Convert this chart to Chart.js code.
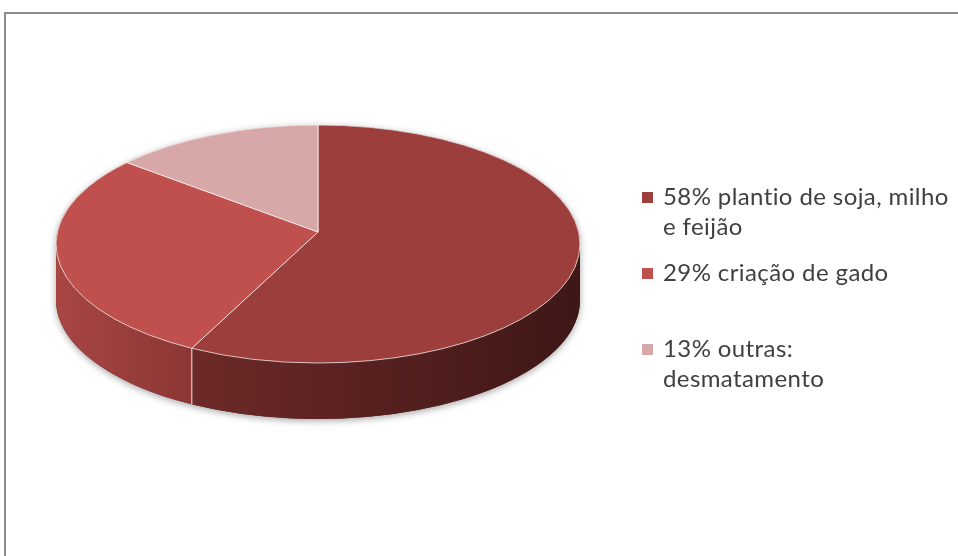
<!DOCTYPE html>
<html>
<head>
<meta charset="utf-8">
<script src="https://cdn.jsdelivr.net/npm/chart.js@4.4.0/dist/chart.umd.min.js"></script>
<style>
  html, body { margin: 0; padding: 0; background: #fff; }
  #wrap { position: relative; width: 958px; height: 556px; overflow: hidden; }
  #frame {
    position: absolute; left: 4px; top: 12px; width: 1000px; height: 600px;
    border-left: 2px solid #8c8c8c; border-top: 2px solid #8c8c8c;
  }
  #pie { position: absolute; left: 0; top: 0; }
</style>
</head>
<body>
<div id="wrap">
  <div id="frame"></div>
  <canvas id="pie" width="958" height="556"></canvas>
</div>
<script>
// ===== DATA =====
const labels = [
    ['58% plantio de soja, milho', 'e feijão'],
    ['29% criação de gado'],
    ['13% outras:', 'desmatamento']
];
const shares = [58, 29, 13];

// ===== STYLE =====
const topColors = ['#9b3e3c', '#c0504d', '#d8a7a7'];
const sideColors = [['#6d2a28', '#3e1716'], ['#a84644', '#8b3735'], ['#c99494', '#b88282']];
const TILT = 119 / 262;   // vertical squash of the top face
const DEPTH = 56;         // height of the pie wall
const APEX_LIFT = 12;     // perspective: apex sits a bit above the ellipse centre

// Draws the pie as a tilted solid using the arcs Chart.js laid out
const pie3d = {
    id: 'pie3d',
    beforeDatasetsDraw(chart) {
        const ctx = chart.ctx;
        const arcs = chart.getDatasetMeta(0).data;
        const cx = arcs[0].x;
        const rx = arcs[0].outerRadius;
        const ry = rx * TILT;
        const cy = arcs[0].y - DEPTH / 2;

        // soft shadow under the whole solid
        ctx.save();
        ctx.shadowColor = 'rgba(0,0,0,0.35)';
        ctx.shadowBlur = 7;
        ctx.shadowOffsetY = 2;
        ctx.beginPath();
        ctx.ellipse(cx, cy, rx, ry, 0, Math.PI, 0);
        ctx.ellipse(cx, cy + DEPTH, rx, ry, 0, 0, Math.PI);
        ctx.closePath();
        ctx.fillStyle = '#5a2321';
        ctx.fill();
        ctx.restore();

        // front walls
        arcs.forEach((arc, i) => {
            const a1 = Math.max(arc.startAngle, 0);
            const a2 = Math.min(arc.endAngle, Math.PI);
            if (a2 <= a1) return;
            const xl = cx + rx * Math.cos(a2);
            const xr = cx + rx * Math.cos(a1);
            const grad = ctx.createLinearGradient(xl, 0, xr, 0);
            grad.addColorStop(0, sideColors[i][0]);
            grad.addColorStop(1, sideColors[i][1]);
            ctx.beginPath();
            ctx.ellipse(cx, cy, rx, ry, 0, a1, a2);
            ctx.ellipse(cx, cy + DEPTH, rx, ry, 0, a2, a1, true);
            ctx.closePath();
            ctx.fillStyle = grad;
            ctx.fill();
        });

        // seams on the wall where slices meet
        ctx.save();
        ctx.strokeStyle = 'rgba(255,255,255,0.75)';
        ctx.lineWidth = 1.2;
        arcs.forEach(arc => {
            const a = arc.endAngle;
            if (a <= 0 || a >= Math.PI) return;
            const x = cx + rx * Math.cos(a);
            const y = cy + ry * Math.sin(a);
            ctx.beginPath();
            ctx.moveTo(x, y);
            ctx.lineTo(x, y + DEPTH);
            ctx.stroke();
        });
        ctx.restore();

        // top faces
        arcs.forEach((arc, i) => {
            ctx.beginPath();
            ctx.moveTo(cx, cy - APEX_LIFT);
            ctx.ellipse(cx, cy, rx, ry, 0, arc.startAngle, arc.endAngle);
            ctx.closePath();
            ctx.fillStyle = topColors[i];
            ctx.fill();
            ctx.strokeStyle = 'rgba(255,255,255,0.7)';
            ctx.lineWidth = 1;
            ctx.stroke();
        });
        return false;
    },
    afterDraw(chart) {
        // legend on the right, one block per slice
        const ctx = chart.ctx;
        ctx.save();
        ctx.font = '24px Lato';
        ctx.letterSpacing = '0.4px';
        ctx.textBaseline = 'alphabetic';
        chart.data.labels.forEach((lines, i) => {
            const base = 205 + i * 76;
            ctx.fillStyle = topColors[i];
            ctx.fillRect(642, base - 13, 11, 11);
            ctx.fillStyle = '#404040';
            lines.forEach((t, j) => ctx.fillText(t, 663, base + j * 30));
        });
        ctx.restore();
    }
};

new Chart(document.getElementById('pie'), {
    type: 'pie',
    data: {
        labels: labels,
        datasets: [{
            data: shares,
            backgroundColor: topColors,
            borderWidth: 0
        }]
    },
    options: {
        responsive: false,
        animation: false,
        layout: { padding: { left: 56, right: 378, top: 0, bottom: 12 } },
        plugins: {
            legend: { display: false },
            tooltip: { enabled: false }
        }
    },
    plugins: [pie3d]
});
</script>
</body>
</html>
